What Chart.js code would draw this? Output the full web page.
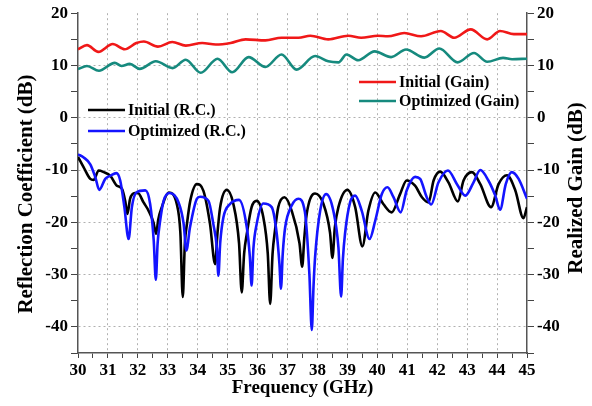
<!DOCTYPE html>
<html>
<head>
<meta charset="utf-8">
<script src="https://cdn.jsdelivr.net/npm/chart.js@4/dist/chart.umd.min.js"></script>
<style>
  html, body { margin: 0; padding: 0; background: #fff; }
  #wrap { width: 592px; height: 406px; }
</style>
</head>
<body>
<div id="wrap"><canvas id="chart"></canvas></div>
<script>
// frequency (GHz) / value (dB) pairs
const freqInitRC = [30.0, 30.19, 30.41, 30.52, 30.69, 30.86, 31.08, 31.3, 31.47, 31.58, 31.65, 31.74, 31.9, 32.0, 32.19, 32.36, 32.52, 32.61, 32.68, 32.8, 33.03, 33.3, 33.42, 33.5, 33.57, 33.64, 33.75, 33.97, 34.19, 34.41, 34.58, 34.66, 34.75, 34.97, 35.19, 35.38, 35.47, 35.55, 35.64, 35.8, 35.97, 36.19, 36.34, 36.42, 36.5, 36.58, 36.69, 36.9, 37.14, 37.4, 37.49, 37.56, 37.64, 37.92, 38.2, 38.42, 38.5, 38.58, 38.7, 39.0, 39.26, 39.5, 39.7, 39.93, 40.2, 40.48, 40.76, 40.98, 41.26, 41.49, 41.71, 41.88, 42.1, 42.38, 42.69, 42.88, 43.16, 43.44, 43.8, 44.05, 44.33, 44.61, 44.88, 45.0];
const initRC = [-7.5, -9.5, -11.7, -11.9, -10.1, -10.4, -11.1, -13.0, -13.6, -16.0, -18.4, -15.5, -14.4, -14.4, -16.2, -17.8, -20.0, -22.2, -19.5, -17.1, -14.3, -16.5, -22.0, -34.3, -24.0, -20.3, -15.9, -12.7, -14.0, -20.3, -28.0, -22.0, -17.1, -13.8, -16.5, -24.0, -33.4, -26.0, -22.2, -17.1, -15.9, -19.0, -26.0, -35.6, -26.0, -21.6, -17.1, -15.2, -17.8, -24.0, -28.5, -23.0, -18.4, -14.5, -16.5, -22.0, -26.8, -21.0, -17.1, -13.8, -17.1, -24.6, -17.8, -14.3, -16.5, -18.1, -14.6, -12.0, -13.0, -15.2, -16.2, -12.0, -10.3, -12.4, -16.0, -12.0, -10.4, -12.7, -17.1, -12.7, -11.0, -13.9, -19.2, -17.1];

const freqOptRC = [30.0, 30.19, 30.41, 30.58, 30.71, 30.91, 31.08, 31.28, 31.41, 31.55, 31.69, 31.8, 31.95, 32.25, 32.41, 32.53, 32.6, 32.66, 32.73, 32.86, 33.06, 33.36, 33.53, 33.62, 33.74, 33.97, 34.08, 34.36, 34.52, 34.64, 34.69, 34.75, 34.86, 35.08, 35.38, 35.64, 35.74, 35.8, 35.86, 35.97, 36.19, 36.47, 36.64, 36.73, 36.78, 36.84, 36.92, 37.14, 37.36, 37.58, 37.73, 37.81, 37.87, 37.92, 38.09, 38.29, 38.53, 38.7, 38.79, 38.85, 38.92, 39.09, 39.26, 39.48, 39.74, 39.93, 40.15, 40.34, 40.54, 40.78, 40.98, 41.26, 41.43, 41.65, 41.8, 42.04, 42.36, 42.66, 42.94, 43.21, 43.44, 43.71, 43.94, 44.1, 44.29, 44.49, 44.72, 45.0];
const optRC = [-7.0, -7.6, -8.9, -11.4, -13.8, -11.7, -11.1, -10.6, -12.0, -17.1, -23.2, -17.1, -14.3, -13.9, -16.5, -23.5, -31.0, -24.0, -20.3, -15.9, -14.4, -16.2, -20.3, -25.4, -21.0, -15.5, -15.1, -15.9, -20.3, -25.0, -30.2, -24.0, -19.0, -16.5, -15.7, -21.0, -26.5, -32.1, -25.0, -20.3, -16.4, -17.1, -22.2, -28.0, -32.7, -26.0, -21.0, -16.8, -15.5, -18.0, -29.9, -40.6, -32.0, -26.7, -17.8, -14.6, -17.8, -24.8, -34.2, -27.0, -22.2, -16.2, -14.9, -17.8, -23.2, -19.7, -14.6, -13.3, -15.2, -18.1, -13.9, -11.3, -11.7, -15.2, -16.6, -12.4, -10.1, -12.7, -14.9, -12.4, -10.0, -12.0, -14.9, -17.6, -12.7, -10.4, -11.7, -15.5];

const freqInitGain = [30.0, 30.3, 30.68, 31.16, 31.56, 31.95, 32.2, 32.67, 33.15, 33.6, 34.15, 34.6, 35.1, 35.6, 36.26, 36.8, 37.37, 37.76, 38.36, 39.03, 39.46, 40.02, 40.35, 40.9, 41.46, 42.12, 42.57, 43.12, 43.67, 44.1, 44.56, 45.0];
const initGain = [13.1, 13.9, 12.6, 14.1, 13.1, 14.3, 14.6, 13.6, 14.5, 13.8, 14.3, 14.0, 14.3, 15.0, 14.8, 15.3, 15.3, 15.7, 15.0, 15.7, 15.3, 15.7, 15.6, 16.2, 15.6, 16.6, 15.3, 16.9, 15.0, 16.6, 16.0, 16.0];

const freqOptGain = [30.0, 30.3, 30.7, 31.23, 31.45, 31.73, 32.06, 32.6, 33.16, 33.6, 34.1, 34.66, 35.15, 35.7, 36.26, 36.8, 37.3, 37.92, 38.36, 38.7, 38.97, 39.36, 39.91, 40.46, 40.96, 41.57, 42.07, 42.68, 43.23, 43.67, 44.2, 44.5, 45.0];
const optGain = [9.3, 9.9, 9.0, 10.5, 9.9, 10.3, 9.35, 10.8, 9.5, 11.1, 8.6, 11.3, 8.7, 11.6, 9.7, 12.1, 9.2, 11.8, 10.8, 10.6, 12.1, 11.0, 12.7, 11.6, 13.05, 11.5, 13.25, 10.6, 12.4, 10.7, 11.45, 11.2, 11.3];

const xMin = 30, xMax = 45;     // tick labels 30..45 every 1 GHz
const yMin = -45, yMax = 20;    // tick labels -40..20 every 10 dB
const leftTitle = "Reflection Coefficient (dB)";
const rightTitle = "Realized Gain (dB)";

function pts(xs, ys) {
  return xs.map((x, i) => ({ x: x, y: ys[i] }));
}

const serif = "'Liberation Serif', 'Times New Roman', serif";

// legend boxes placed inside the plot like the original figure,
// plus both y titles reading bottom-to-top
const figPlugin = {
  id: "figExtras",
  afterDatasetsDraw(chart) {
    const ctx = chart.ctx;
    const items = [
      { ds: 1, x: 88, y: 110 },
      { ds: 0, x: 88, y: 131 },
      { ds: 2, x: 359, y: 82 },
      { ds: 3, x: 359, y: 101 },
    ];
    ctx.save();
    ctx.font = "bold 16px " + serif;
    ctx.textBaseline = "middle";
    items.forEach((it) => {
      const d = chart.data.datasets[it.ds];
      ctx.strokeStyle = d.borderColor;
      ctx.lineWidth = 2.6;
      ctx.beginPath();
      ctx.moveTo(it.x, it.y);
      ctx.lineTo(it.x + 37, it.y);
      ctx.stroke();
      ctx.fillStyle = "#000";
      ctx.fillText(d.label, it.x + 40, it.y + 1);
    });
    ctx.restore();
  },
  afterDraw(chart) {
    const ctx = chart.ctx;
    ctx.save();
    ctx.font = "bold 21px " + serif;
    ctx.fillStyle = "#000";
    ctx.textAlign = "center";
    ctx.textBaseline = "middle";
    [[leftTitle, 27, 194], [rightTitle, 577, 188]].forEach(([t, x, y]) => {
      ctx.save();
      ctx.translate(x, y);
      ctx.rotate(-Math.PI / 2);
      ctx.fillText(t, 0, 0);
      ctx.restore();
    });
    ctx.restore();
  },
};

const gridColor = (ctx, step) =>
  ctx.tick && Math.abs(ctx.tick.value / step - Math.round(ctx.tick.value / step)) < 1e-6 &&
  ctx.tick.value !== yMax && ctx.tick.value !== yMin
    ? "#b0b0b0"
    : "rgba(0,0,0,0)";

new Chart(document.getElementById("chart"), {
  type: "line",
  data: {
    datasets: [
      {
        label: "Optimized (R.C.)",
        data: pts(freqOptRC, optRC),
        borderColor: "#1414ff",
        yAxisID: "y",
      },
      {
        label: "Initial (R.C.)",
        data: pts(freqInitRC, initRC),
        borderColor: "#000000",
        yAxisID: "y",
      },
      {
        label: "Initial (Gain)",
        data: pts(freqInitGain, initGain),
        borderColor: "#f01818",
        yAxisID: "y2",
      },
      {
        label: "Optimized (Gain)",
        data: pts(freqOptGain, optGain),
        borderColor: "#168a7e",
        yAxisID: "y2",
      },
    ],
  },
  options: {
    responsive: true,
    maintainAspectRatio: false,
    animation: false,
    layout: { padding: { top: 13, left: 0, right: 0, bottom: 0 } },
    elements: {
      point: { radius: 0 },
      line: { borderWidth: 2.6, cubicInterpolationMode: "monotone", fill: false },
    },
    plugins: {
      legend: { display: false },
      tooltip: { enabled: false },
    },
    scales: {
      x: {
        type: "linear",
        min: xMin,
        max: xMax,
        afterFit: (s) => { s.height = 53; },
        ticks: {
          stepSize: 0.5,
          autoSkip: false,
          maxRotation: 0,
          padding: 2,
          color: "#000",
          font: { family: serif, size: 17, weight: "bold" },
          callback: (v) => (v % 1 === 0 ? v : ""),
        },
        grid: {
          color: (c) => (c.tick && c.tick.value % 1 === 0 && c.tick.value !== xMin && c.tick.value !== xMax ? "#b0b0b0" : "rgba(0,0,0,0)"),
          tickColor: "#444",
          tickLength: 5,
          lineWidth: 1,
        },
        border: { color: "#555", width: 1.5, dash: [2, 3] },
        title: {
          display: true,
          text: "Frequency (GHz)",
          color: "#000",
          font: { family: serif, size: 19, weight: "bold" },
          padding: { top: 0, bottom: 7 },
        },
      },
      y: {
        position: "left",
        min: yMin,
        max: yMax,
        afterFit: (s) => { s.width = 78; },
        ticks: {
          stepSize: 5,
          autoSkip: false,
          padding: 3,
          color: "#000",
          font: { family: serif, size: 17, weight: "bold" },
          callback: (v) => (v % 10 === 0 ? v : ""),
        },
        grid: {
          color: (c) => gridColor(c, 10),
          tickColor: "#444",
          tickLength: 7,
          lineWidth: 1,
        },
        border: { color: "#555", width: 1.5, dash: [2, 3] },
      },
      y2: {
        position: "right",
        min: yMin,
        max: yMax,
        afterFit: (s) => { s.width = 65; },
        ticks: {
          stepSize: 5,
          autoSkip: false,
          padding: 3,
          color: "#000",
          font: { family: serif, size: 17, weight: "bold" },
          callback: (v) => (v % 10 === 0 ? v : ""),
        },
        grid: {
          drawOnChartArea: false,
          tickColor: "#444",
          tickLength: 7,
        },
        border: { color: "#555", width: 1.5 },
      },
    },
  },
  plugins: [figPlugin],
});
</script>
</body>
</html>
